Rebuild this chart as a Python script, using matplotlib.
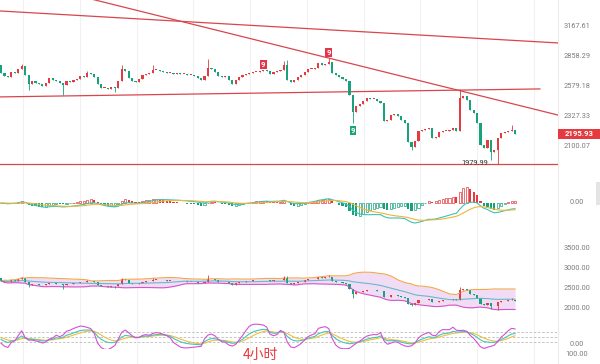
import numpy as np
import pandas as pd
import matplotlib
matplotlib.use('Agg')
import matplotlib.pyplot as plt
import matplotlib.transforms as mtransforms
from matplotlib.lines import Line2D
from matplotlib.patches import Rectangle

plt.rcParams['font.family'] = ['Roboto', 'Noto Sans CJK SC', 'DejaVu Sans']

# 4h candles (open of each candle = previous close)
first_open = 2781
closes = [
    2706, 2678, 2669, 2715, 2706, 2743, 2771, 2687, 2606, 2633,
    2615, 2606, 2588, 2615, 2660, 2642, 2633, 2615, 2597, 2633,
    2624, 2642, 2651, 2678, 2669, 2706, 2697, 2669, 2606, 2570,
    2570, 2562, 2579, 2570, 2633, 2743, 2724, 2660, 2633, 2624,
    2651, 2687, 2697, 2706, 2734, 2734, 2724, 2715, 2706, 2706,
    2697, 2706, 2697, 2697, 2687, 2687, 2678, 2660, 2642, 2678,
    2752, 2743, 2715, 2678, 2669, 2678, 2642, 2606, 2642, 2669,
    2687, 2697, 2706, 2715, 2715, 2724, 2734, 2724, 2697, 2715,
    2724, 2734, 2781, 2642, 2624, 2642, 2669, 2687, 2715, 2743,
    2743, 2752, 2800, 2781, 2790, 2810, 2706, 2687, 2669, 2651,
    2633, 2509, 2367, 2416, 2433, 2458, 2484, 2475, 2475, 2458,
    2441, 2296, 2304, 2343, 2351, 2335, 2304, 2280, 2136, 2100,
    2143, 2218, 2226, 2234, 2241, 2166, 2173, 2211, 2218, 2218,
    2226, 2241, 2218, 2484, 2500, 2467, 2383, 2359, 2280, 2114,
    2093, 2151, 2064, 2078, 2166, 2203, 2211, 2218, 2226, 2195.93,
]
# visible wicks beyond the body
wick_high = {6: 2790, 25: 2724, 35: 2781, 44: 2781, 60: 2839, 82: 2819,
             83: 2829, 95: 2848, 133: 2562, 148: 2265}
wick_low = {8: 2553, 18: 2509, 33: 2535, 102: 2280, 119: 2078, 142: 2008,
            144: 1979.99}

price_ticks = [3167.61, 2858.29, 2579.18, 2327.33, 2100.07]
last_price = 2195.93
low_idx, low_price = 144, 1979.99
boll_ticks = [3500.00, 3000.00, 2500.00, 2000.00]
kdj_levels = [20, 50, 80]
nine_up = [76, 95]
nine_down = [102]

# trend lines as (candle index, price) pairs
trend_lines = [
    ([-0.3, 161.4], [3346, 2999]),
    ([20.0, 161.4], [3549, 2343]),
    ([-0.3, 156.2], [2493, 2562]),
    ([-0.3, 161.4], [1979.99, 1979.99]),
]

UP, DOWN = '#e33b3f', '#17a27c'

c = np.array(closes, dtype=float)
o = np.concatenate([[first_open], c[:-1]])
hi = np.maximum(o, c)
lo = np.minimum(o, c)
for k, v in wick_high.items():
    hi[k] = v
for k, v in wick_low.items():
    lo[k] = v
n = len(c)
idx = np.arange(n)
cols = np.where(c >= o, UP, DOWN)

# indicators
s = pd.Series(c)
ema12 = s.ewm(span=12, adjust=False).mean()
ema26 = s.ewm(span=26, adjust=False).mean()
dif = ema12 - ema26
dea = dif.ewm(span=9, adjust=False).mean()
hist = 2 * (dif - dea)

mid = s.rolling(20, min_periods=1).mean()
sd = s.rolling(20, min_periods=1).std(ddof=0)
upper, lower = mid + 2 * sd, mid - 2 * sd

llv = pd.Series(lo).rolling(9, min_periods=1).min()
hhv = pd.Series(hi).rolling(9, min_periods=1).max()
rsv = ((s - llv) / (hhv - llv).replace(0, np.nan) * 100).fillna(50)
K, D = [], []
k_prev = d_prev = 50.0
for r in rsv:
    k_prev = 2 / 3 * k_prev + r / 3
    d_prev = 2 / 3 * d_prev + k_prev / 3
    K.append(k_prev)
    D.append(d_prev)
K, D = np.array(K), np.array(D)
J = 3 * K - 2 * D

W, H = 600, 364
AX_W = 558 / W
fig = plt.figure(figsize=(6, 3.64), dpi=100)
fig.patch.set_facecolor('white')

# faint vertical grid across all panels
for gx in 23 + 56.75 * np.arange(10):
    fig.add_artist(Line2D([gx / W] * 2, [0, 1], color='#f1f1f1', lw=0.8, zorder=0))
fig.add_artist(Line2D([AX_W] * 2, [0, 1], color='#ececec', lw=0.8, zorder=0))


def add_panel(top, bottom):
    ax = fig.add_axes([0, 1 - bottom / H, AX_W, (bottom - top) / H])
    ax.set_xlim(-0.29, 161.45)
    for sp in ax.spines.values():
        sp.set_visible(False)
    ax.set_xticks([])
    ax.set_yticks([])
    ax.patch.set_alpha(0)
    return ax


def right_labels(ax, vals):
    tr = mtransforms.blended_transform_factory(fig.transFigure, ax.transData)
    for v in vals:
        ax.text(577 / W, v, f'{v:.2f}', transform=tr, ha='center', va='center',
                fontsize=5.3, color='#7c7c7c')


def draw_candles(ax, min_h):
    ax.vlines(idx, lo, hi, colors=cols, lw=0.6)
    body_lo = np.minimum(o, c)
    body_h = np.maximum(np.abs(c - o), min_h)
    ax.bar(idx, body_h, bottom=body_lo, width=0.62, color=cols, linewidth=0)


# main price panel
ax = add_panel(0, 175)
ax.set_yscale('log')
ax.set_ylim(1908, 3474)
ax.yaxis.set_major_locator(plt.NullLocator())
ax.yaxis.set_minor_locator(plt.NullLocator())
for xs, ys in trend_lines:
    ax.plot(xs, ys, color='#d8464c', lw=0.9, zorder=1)
draw_candles(ax, c * 0.003)
right_labels(ax, price_ticks)

for i in nine_up:
    ax.annotate('9', xy=(i, hi[i]), xytext=(0, 1.5), textcoords='offset points',
                ha='center', va='bottom', color='white', fontsize=5.5, fontweight='bold',
                bbox=dict(boxstyle='square,pad=0.15', fc='#e3364a', ec='none'))
for i in nine_down:
    ax.annotate('9', xy=(i, lo[i]), xytext=(0, -3), textcoords='offset points',
                ha='center', va='top', color='white', fontsize=5.5, fontweight='bold',
                bbox=dict(boxstyle='square,pad=0.15', fc='#1ba37c', ec='none'))
ax.annotate(f'{low_price:.2f}', xy=(low_idx, low_price), xytext=(-7, 0.5),
            textcoords='offset points', ha='right', va='center',
            fontsize=5.3, color='#333333')

# last price tag
fig.canvas.draw()
py = ax.transData.transform((0, last_price))[1] / H
fig.add_artist(Rectangle((558 / W, py - 5 / H), 42 / W, 10 / H,
                         transform=fig.transFigure, fc='#e53a3f', ec='none'))
fig.text(579 / W, py, f'{last_price:.2f}', ha='center', va='center',
         color='white', fontsize=5.6, fontweight='bold')

# MACD panel
axm = add_panel(180, 226)
m = max(np.abs(hist).max(), np.abs(dif).max(), np.abs(dea).max()) * 23 / 20
axm.set_ylim(-m, m)
dh = np.diff(np.concatenate([[0], hist]))
for i in range(n):
    col = UP if hist[i] >= 0 else DOWN
    if dh[i] < 0:
        axm.bar(i, hist[i], width=0.62, color=col, linewidth=0)
    else:
        axm.bar(i, hist[i], width=0.62, facecolor='white', edgecolor=col, linewidth=0.5)
axm.plot(idx, dif, color='#3cc4b4', lw=0.8)
axm.plot(idx, dea, color='#f1b43c', lw=0.8)
right_labels(axm, [0.0])

# Bollinger panel
axb = add_panel(238, 318)
axb.set_ylim(1775, 3775)
axb.fill_between(idx, lower, upper, color='#f1dcf6', lw=0)
axb.plot(idx, upper, color='#f3a84e', lw=0.8)
axb.plot(idx, mid, color='#68b9cc', lw=0.8)
axb.plot(idx, lower, color='#d655c8', lw=0.8)
draw_candles(axb, 8)
right_labels(axb, boll_ticks)

# KDJ panel
axk = add_panel(323, 349)
axk.set_ylim(-24, 132)
for v in kdj_levels:
    axk.axhline(v, color='#bdbdbd', lw=0.6, ls=(0, (3, 2)))
axk.plot(idx, D, color='#f2bd3e', lw=0.8)
axk.plot(idx, K, color='#43c7b6', lw=0.8)
axk.plot(idx, J, color='#d64fd6', lw=0.8)
right_labels(axk, [0.0])

fig.text(577 / W, 1 - 355 / H, '100.00', ha='center', va='center',
         fontsize=5.3, color='#7c7c7c')
fig.text(260 / W, 1 - 355 / H, '4小时', ha='center', va='center', color='#e8353c',
         fontsize=10, family=['Noto Sans CJK SC', 'DejaVu Sans'])
fig.add_artist(Rectangle((596 / W, 1 - 205 / H), 4 / W, 23 / H,
                         transform=fig.transFigure, fc='#e4e4e4', ec='none'))

fig.savefig('out.png', dpi=100)
